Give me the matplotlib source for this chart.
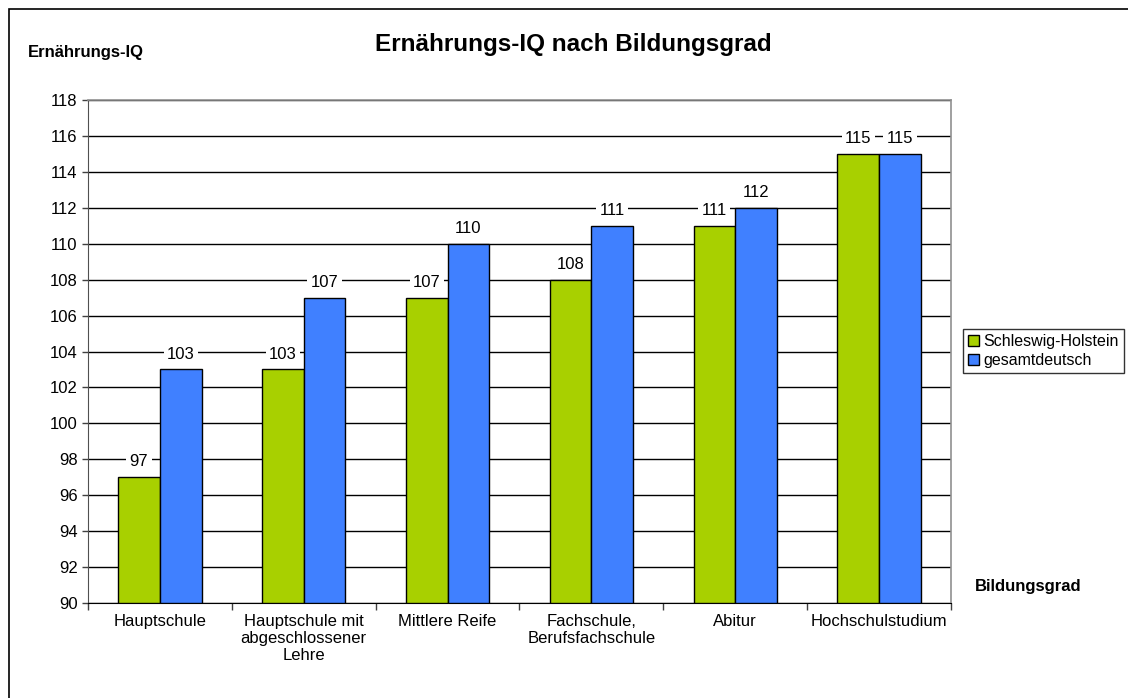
import matplotlib.pyplot as plt
import numpy as np
from matplotlib.patches import Rectangle

plt.rcParams['font.family'] = ['Liberation Sans', 'DejaVu Sans']

categories = ['Hauptschule', 'Hauptschule mit\nabgeschlossener\nLehre', 'Mittlere Reife',
              'Fachschule,\nBerufsfachschule', 'Abitur', 'Hochschulstudium']
schleswig_holstein = [97, 103, 107, 108, 111, 115]
gesamtdeutsch = [103, 107, 110, 111, 112, 115]
series_names = ['Schleswig-Holstein', 'gesamtdeutsch']
colors = ['#A8D000', '#4080FF']

fig = plt.figure(figsize=(11.28, 6.98), dpi=100)
# outer chart border (only top/left visible in the reference)
fig.patches.append(Rectangle((9 / 1128, -0.05), 1.2, 1 - 9 / 698 + 0.05,
                             transform=fig.transFigure, fill=False,
                             edgecolor='black', linewidth=1.2))

ax = fig.add_axes([88 / 1128, 1 - 603 / 698, (951 - 88) / 1128, (603 - 100) / 698])

x = np.arange(len(categories))
w = 0.29
for i, (vals, name, c) in enumerate(zip([schleswig_holstein, gesamtdeutsch], series_names, colors)):
    pos = x + (i - 0.5) * w
    ax.bar(pos, np.array(vals) - 90, bottom=90, width=w, color=c,
           edgecolor='black', linewidth=1, label=name, zorder=3)
    for p, v in zip(pos, vals):
        ax.annotate(str(v), (p, v), xytext=(0, 11), textcoords='offset points',
                    ha='center', va='center', fontsize=12, zorder=5,
                    bbox=dict(boxstyle='square,pad=0.2', fc='white', ec='none'))

ax.set_ylim(90, 118)
ax.set_xlim(-0.5, len(categories) - 0.5)
ax.set_yticks(np.arange(90, 119, 2))
ax.tick_params(axis='y', labelsize=12, length=4, direction='out', width=1, color='#404040')
ax.yaxis.grid(True, color='black', linewidth=1, zorder=0)
ax.set_axisbelow(True)

ax.set_xticks(x)
ax.set_xticklabels(categories, fontsize=12, linespacing=1.15)
ax.tick_params(axis='x', length=0, pad=8)
ax.set_xticks(np.arange(-0.5, len(categories), 1), minor=True)
ax.tick_params(axis='x', which='minor', length=5, width=1, color='#404040')

for s in ['top', 'right']:
    ax.spines[s].set_color('#909090')
    ax.spines[s].set_linewidth(1.2)
ax.spines['left'].set_color('#505050')
ax.spines['bottom'].set_color('black')

fig.text(375 / 1128, 1 - 44 / 698, 'Ernährungs-IQ nach Bildungsgrad', fontsize=17.5,
         fontweight='bold', ha='left', va='center')
fig.text(28 / 1128, 1 - 52 / 698, 'Ernährungs-IQ', fontsize=12, fontweight='bold',
         ha='left', va='center')
fig.text(975 / 1128, 1 - 586 / 698, 'Bildungsgrad', fontsize=12, fontweight='bold',
         ha='left', va='center')

leg = fig.legend(loc='upper left', bbox_to_anchor=(963 / 1128, 1 - 329 / 698),
                 fontsize=11.5, frameon=True, fancybox=False, handlelength=0.7,
                 handleheight=0.7, handletextpad=0.3, borderpad=0.3,
                 labelspacing=0.25, borderaxespad=0)
leg.get_frame().set_edgecolor('black')
leg.get_frame().set_linewidth(1)

fig.savefig('out.png', dpi=100)
